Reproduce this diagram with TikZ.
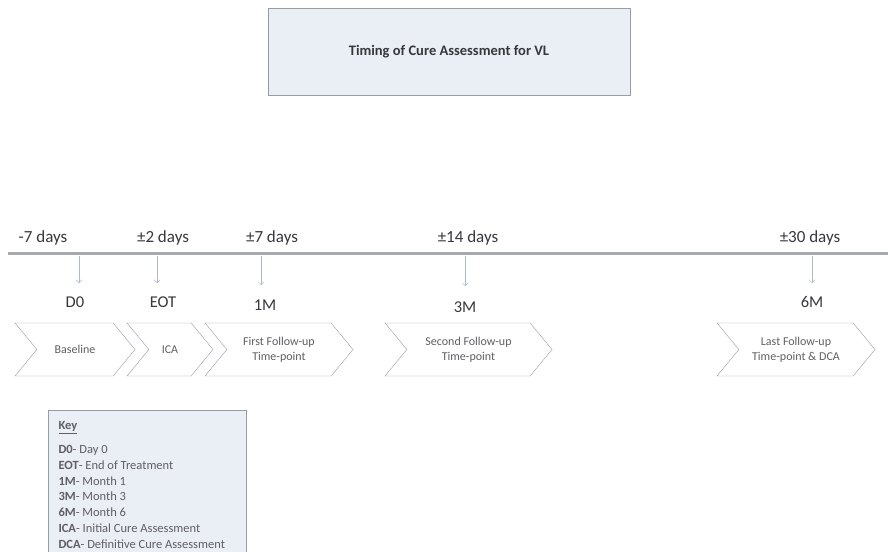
\documentclass[tikz,border=0pt]{standalone}
\usepackage{fontspec}
\setmainfont{Carlito}
\usepackage{xcolor}
\usepackage{tikz}
\usetikzlibrary{shapes.symbols, positioning, arrows.meta}
\definecolor{TLGrey}{RGB}{165,168,172}
\definecolor{TLEdge}{RGB}{150,156,166}
\definecolor{TLFill}{RGB}{234,238,245}
\definecolor{TLTick}{RGB}{170,186,206}
\definecolor{TLText}{RGB}{55,55,60}
\definecolor{TLSoft}{RGB}{95,95,100}

\begin{document}
\begin{tikzpicture}[x=1pt, y=-1pt,
          chev/.style={signal, signal from=west, signal to=east,
                       signal pointer angle=101, draw=TLEdge, fill=white,
                       minimum height=53pt, inner sep=0pt, align=center,
                       text=TLSoft, font=\fontsize{12}{15}\selectfont},
          win/.style={text=TLText, font=\fontsize{17}{20}\selectfont},
          mile/.style={text=TLText, font=\fontsize{16.5}{19}\selectfont},
          tick/.style={-{Straight Barb[length=3pt]}, draw=TLTick, thin}
        ]
        \useasboundingbox (0,0) rectangle (888,551);

        \node[draw=TLEdge, fill=TLFill, minimum width=362pt, minimum height=87pt,
              text=TLText, font=\bfseries\fontsize{14.5}{17}\selectfont]
              (title) at (449,51.5) {Timing of Cure Assessment for VL};

        % timeline
        \coordinate (tl0) at (8,253);
        \coordinate (tl1) at (888,253);
        \draw[TLGrey, line width=3pt] (tl0) -- (tl1);

        \node[win] (w1) at (43,238)  {-7 days};
        \node[win] (w2) at (163,238) {±2 days};
        \node[win] (w3) at (272,238) {±7 days};
        \node[win] (w4) at (468,238) {±14 days};
        \node[win] (w5) at (810,238) {±30 days};

        \node[mile] (d0)  at (75,302)  {D0};
        \node[mile] (eot) at (163,302) {EOT};
        \node[mile] (m1)  at (265,305) {1M};
        \node[mile] (m3)  at (465,307) {3M};
        \node[mile] (m6)  at (812,302) {6M};

        \coordinate (k1) at (79,256);
        \coordinate (k2) at (157,256);
        \coordinate (k3) at (261,256);
        \coordinate (k4) at (465,256);
        \coordinate (k5) at (812,256);

        \draw[tick] (k1) -- (k1 |- 0,283);
        \draw[tick] (k2) -- (k2 |- 0,283);
        \draw[tick] (k3) -- (k3 |- 0,285);
        \draw[tick] (k4) -- (k4 |- 0,286);
        \draw[tick] (k5) -- (k5 |- 0,283);

        % phases
        \node[chev, minimum width=120pt] (base) at (75,349.5)  {Baseline};
        \node[chev, minimum width=86pt]  (ica)  at (170,349.5) {ICA};
        \node[chev, minimum width=148pt] (fu1)  at (279,349.5) {First Follow-up\\Time-point};
        \node[chev, minimum width=167pt] (fu2)  at (468.5,349.5) {Second Follow-up\\Time-point};
        \node[chev, minimum width=158pt] (fu3)  at (796,349.5) {Last Follow-up\\Time-point \& DCA};

        % key
        \draw[draw=TLEdge, fill=TLFill] (48,410) rectangle (246,560);
        \node[anchor=north west, align=left, text=TLSoft,
              font=\fontsize{12.5}{15.8}\selectfont] (key) at (55,418)
              {\textbf{\underline{Key}}\\[8pt]
               \textbf{D0}- Day 0\\
               \textbf{EOT}- End of Treatment\\
               \textbf{1M}- Month 1\\
               \textbf{3M}- Month 3\\
               \textbf{6M}- Month 6\\
               \textbf{ICA}- Initial Cure Assessment\\
               \textbf{DCA}- Definitive Cure Assessment};
      \end{tikzpicture}
\end{document}
